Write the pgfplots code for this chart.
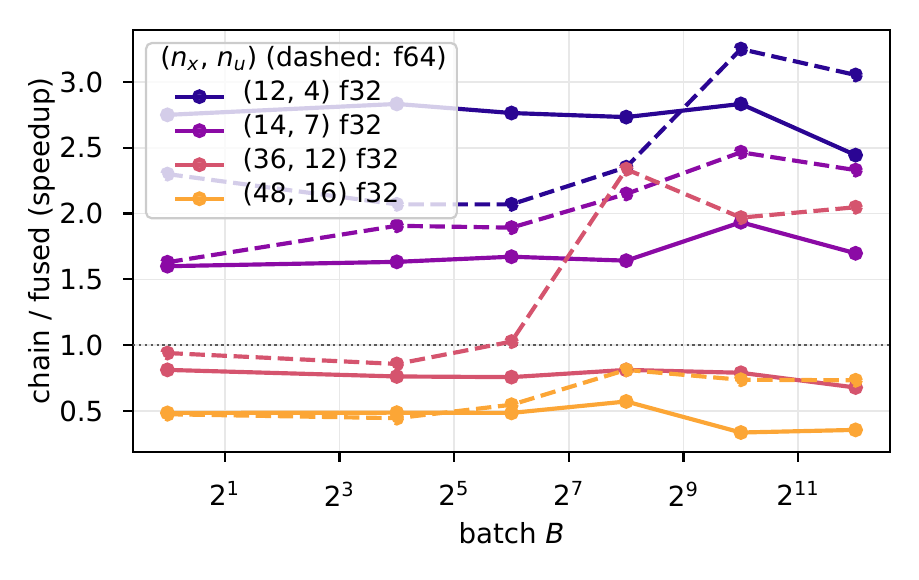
\documentclass[border=0pt]{standalone}
\usepackage{fontspec}
\setmainfont{DejaVu Sans}
\usepackage{pgfplots}
\pgfplotsset{compat=1.18}
\definecolor{cA}{HTML}{2A0593}
\definecolor{cB}{HTML}{8B0AA5}
\definecolor{cC}{HTML}{D5546E}
\definecolor{cD}{HTML}{FCA636}
\definecolor{gridc}{HTML}{E8E8E8}
\definecolor{legc}{HTML}{CCCCCC}
\newcommand{\lf}{\fontsize{9.6}{11.5}\selectfont}
\begin{document}
\begin{tikzpicture}
\useasboundingbox (0,0) rectangle (330.84bp,208.8bp);
\begin{axis}[
  at={(47.88bp,46.08bp)}, anchor=south west,
  scale only axis, width=272.52bp, height=151.92bp,
  xmode=log, log basis x=2,
  xmin=0.6598, xmax=6208.2,
  ymin=0.188, ymax=3.395,
  xtick={2,8,32,128,512,2048},
  xticklabels={2\textsuperscript{1},2\textsuperscript{3},2\textsuperscript{5},2\textsuperscript{7},2\textsuperscript{9},2\textsuperscript{11}},
  ytick={0.5,1.0,1.5,2.0,2.5,3.0},
  yticklabels={0.5,1.0,1.5,2.0,2.5,3.0},
  minor tick num=0,
  xtick pos=bottom, ytick pos=left,
  tick align=outside, major tick length=3.5bp,
  every tick/.style={black, line width=0.8bp},
  axis line style={black, line width=0.8bp},
  grid=major, major grid style={gridc, line width=0.6bp},
  tick label style={font=\fontsize{10}{12}\selectfont, inner sep=0pt},
  yticklabel style={anchor=east, xshift=-7bp},
  xticklabel style={anchor=north, yshift=-7bp},
  xlabel={batch \textit{B}}, ylabel={chain / fused (speedup)},
  label style={font=\fontsize{10}{12}\selectfont},
  xlabel style={at={(axis description cs:0.5,-0.192)}, anchor=center},
  ylabel style={at={(axis description cs:-0.1204,0.5)}, anchor=center, rotate=0},
  legend cell align=left,
  legend image code/.code={
    \path (0bp,0bp) (33.2bp,0bp);
    \draw[mark repeat=2,mark phase=2,line cap=rect,#1] plot coordinates {(10.45bp,0bp) (18.45bp,0bp) (26.45bp,0bp)};
  },
  legend style={at={(rel axis cs:0,1)}, anchor=north west, xshift=4.32bp, yshift=-4.32bp,
    draw=legc, line width=0.8bp, rounded corners=2bp, fill=white, fill opacity=0.8, draw opacity=1, text opacity=1,
    inner xsep=0pt, inner ysep=0.9bp, column sep=0pt, row sep=0pt,
    font=\lf,
    nodes={inner sep=0pt, text height=7.5bp, text depth=4.75bp, font=\lf}},
  every axis plot/.append style={line width=1.5bp, mark=*, mark size=1.9bp},
]
\addplot[forget plot, mark=none, line width=0.8bp, color={rgb,255:red,90;green,90;blue,90}, dash pattern=on 0.8bp off 1.32bp] coordinates {(0.6598,1.0) (6208.2,1.0)};
\addlegendimage{empty legend}
\addlegendentry{\lf\hspace*{-29.6bp}(\textit{n}\textsubscript{\textit{x}}, \textit{n}\textsubscript{\textit{u}}) (dashed: f64)\hspace*{3.6bp}}
% (12,4)
\addplot[cA, line cap=rect] coordinates {(1,2.75) (16,2.833) (64,2.764) (256,2.733) (1024,2.833) (4096,2.444)};
\addlegendentry{\lf(12, 4) f32}
\addplot[cA, forget plot, dash pattern=on 5.55bp off 2.4bp] coordinates {(1,2.30) (16,2.07) (64,2.07) (256,2.352) (1024,3.25) (4096,3.053)};
% (14,7)
\addplot[cB, line cap=rect] coordinates {(1,1.60) (16,1.633) (64,1.672) (256,1.642) (1024,1.934) (4096,1.698)};
\addlegendentry{\lf(14, 7) f32}
\addplot[cB, forget plot, dash pattern=on 5.55bp off 2.4bp] coordinates {(1,1.63) (16,1.907) (64,1.893) (256,2.149) (1024,2.466) (4096,2.33)};
% (36,12)
\addplot[cC, line cap=rect] coordinates {(1,0.812) (16,0.762) (64,0.757) (256,0.812) (1024,0.79) (4096,0.678)};
\addlegendentry{\lf(36, 12) f32}
\addplot[cC, forget plot, dash pattern=on 5.55bp off 2.4bp] coordinates {(1,0.94) (16,0.857) (64,1.027) (256,2.337) (1024,1.969) (4096,2.048)};
% (48,16)
\addplot[cD, line cap=rect] coordinates {(1,0.485) (16,0.487) (64,0.485) (256,0.572) (1024,0.336) (4096,0.356)};
\addlegendentry{\lf(48, 16) f32}
\addplot[cD, forget plot, dash pattern=on 5.55bp off 2.4bp] coordinates {(1,0.475) (16,0.445) (64,0.547) (256,0.812) (1024,0.737) (4096,0.733)};
\end{axis}
\end{tikzpicture}
\end{document}
